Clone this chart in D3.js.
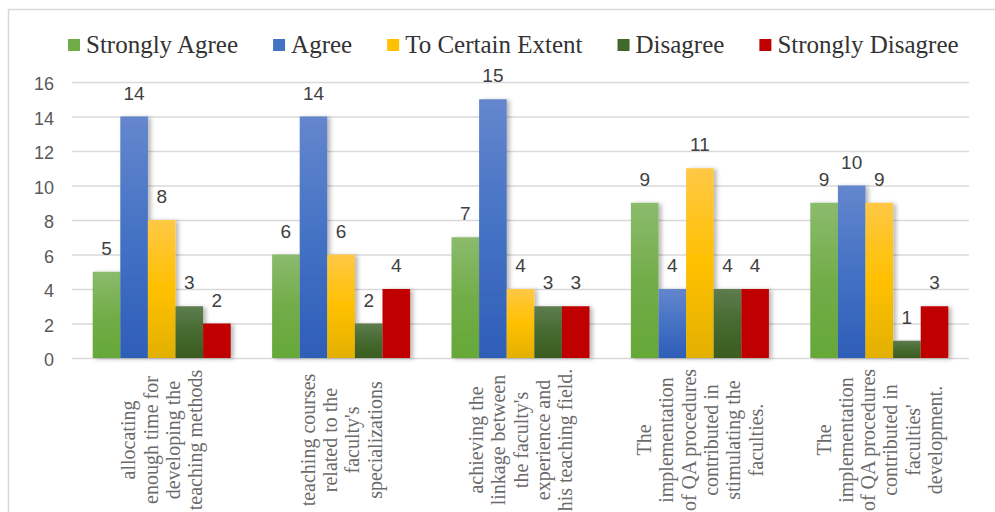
<!DOCTYPE html>
<html>
<head>
<meta charset="utf-8">
<script src="https://cdn.jsdelivr.net/npm/d3@7"></script>
<style>
  html, body { margin: 0; padding: 0; background: #fff; }
  svg { display: block; }
</style>
</head>
<body>
<svg id="chart" width="995" height="512"></svg>
<script>
const categories = [
  ["allocating", "enough time for", "developing the", "teaching methods"],
  ["teaching courses", "related to the", "faculty's", "specializations"],
  ["achieving the", "linkage between", "the faculty's", "experience and", "his teaching field."],
  ["The", "implementation", "of QA procedures", "contributed in", "stimulating the", "faculties."],
  ["The", "implementation", "of QA procedures", "contributed in", "faculties'", "development."]
];
const seriesNames = ["Strongly Agree", "Agree", "To Certain Extent", "Disagree", "Strongly Disagree"];
const stronglyAgree = [5, 6, 7, 9, 9];
const agree = [14, 14, 15, 4, 10];
const toCertainExtent = [8, 6, 4, 11, 9];
const disagree = [3, 2, 3, 4, 1];
const stronglyDisagree = [2, 4, 3, 4, 3];
const yTicks = [0, 2, 4, 6, 8, 10, 12, 14, 16];

const seriesValues = [stronglyAgree, agree, toCertainExtent, disagree, stronglyDisagree];
const baseColors = ["#70ad47", "#4472c4", "#ffc000", "#43682b", "#c00000"];
const gradStops = [
  ["#8bbb6d", "#72ad48", "#66a838"],
  ["#6486cd", "#4472c4", "#2e5eb8"],
  ["#ffc845", "#ffc000", "#e2b000"],
  ["#5e7c4e", "#466a30", "#3a5c1f"],
  ["#c00000", "#c00000", "#c00000"]
];

const svg = d3.select("#chart");
const defs = svg.append("defs");
gradStops.forEach((s, i) => {
  const g = defs.append("linearGradient").attr("id", "g" + i)
    .attr("x1", 0).attr("y1", 0).attr("x2", 0).attr("y2", 1);
  g.append("stop").attr("offset", "0%").attr("stop-color", s[0]);
  g.append("stop").attr("offset", "50%").attr("stop-color", s[1]);
  g.append("stop").attr("offset", "100%").attr("stop-color", s[2]);
});
const f = defs.append("filter").attr("id", "shadow")
  .attr("x", "-20%").attr("y", "-10%").attr("width", "160%").attr("height", "130%");
f.append("feDropShadow").attr("dx", 3).attr("dy", 1).attr("stdDeviation", 2)
  .attr("flood-color", "#000").attr("flood-opacity", 0.28);

// frame
svg.append("path")
  .attr("d", "M8.5,520 L8.5,9.5 L1000,9.5")
  .attr("fill", "none").attr("stroke", "#d9d9d9").attr("stroke-width", 1.5);

const plotLeft = 72, plotRight = 969, yTop = 82, yBottom = 358;
const y = d3.scaleLinear().domain([0, 16]).range([yBottom, yTop]);
const x0 = d3.scaleBand().domain(d3.range(categories.length)).range([plotLeft, plotRight]).padding(0);
const x1 = d3.scaleBand().domain(d3.range(seriesNames.length)).range([0, x0.bandwidth()])
  .paddingInner(0).paddingOuter(0.75);

// gridlines
svg.append("g").selectAll("line").data(yTicks).join("line")
  .attr("x1", plotLeft).attr("x2", plotRight)
  .attr("y1", d => y(d) + 0.5).attr("y2", d => y(d) + 0.5)
  .attr("stroke", "#d9d9d9").attr("stroke-width", 1.5);

// y axis labels
const yAxis = d3.axisLeft(y).tickValues(yTicks).tickSize(0).tickPadding(0);
const ya = svg.append("g").attr("transform", `translate(54,2)`).call(yAxis);
ya.select(".domain").remove();
ya.selectAll("text").attr("font-family", "Liberation Sans, Arial, sans-serif")
  .attr("font-size", 18).attr("fill", "#595959");

// bars
const groups = svg.append("g").selectAll("g").data(categories).join("g")
  .attr("transform", (d, i) => `translate(${x0(i)},0)`);
groups.each(function(cat, ci) {
  const g = d3.select(this);
  const data = seriesValues.map((vals, si) => ({ si, v: vals[ci] }));
  g.selectAll("rect").data(data).join("rect")
    .attr("x", d => x1(d.si))
    .attr("y", d => y(d.v))
    .attr("width", x1.bandwidth())
    .attr("height", d => y(0) - y(d.v))
    .attr("fill", d => `url(#g${d.si})`)
    .attr("filter", "url(#shadow)");
  g.selectAll("text.val").data(data).join("text")
    .attr("class", "val")
    .attr("x", d => x1(d.si) + x1.bandwidth() / 2)
    .attr("y", d => y(d.v) - 17)
    .attr("text-anchor", "middle")
    .attr("font-family", "Liberation Sans, Arial, sans-serif")
    .attr("font-size", 19).attr("fill", "#404040")
    .text(d => d.v);
});

// category labels (rotated)
const lineGap = 22.3;
categories.forEach((lines, ci) => {
  const cx = x0(ci) + x0.bandwidth() / 2;
  const n = lines.length;
  lines.forEach((t, li) => {
    const lx = cx + (li - (n - 1) / 2) * lineGap;
    const ly = 440;
    svg.append("text")
      .attr("transform", `translate(${lx},${ly}) rotate(-90)`)
      .attr("text-anchor", "middle")
      .attr("dominant-baseline", "central")
      .attr("font-family", "Liberation Serif, Times New Roman, serif")
      .attr("font-size", 20).attr("fill", "#6a6a6a")
      .text(t);
  });
});

// legend
const legend = svg.append("g");
let lx = 68;
seriesNames.forEach((name, i) => {
  legend.append("rect").attr("x", lx).attr("y", 39).attr("width", 12).attr("height", 12)
    .attr("fill", baseColors[i]);
  const t = legend.append("text").attr("x", lx + 18).attr("y", 53)
    .attr("font-family", "Liberation Serif, Times New Roman, serif")
    .attr("font-size", 25).attr("fill", "#333333").text(name);
  lx += 18 + t.node().getComputedTextLength() + 35;
});
</script>
</body>
</html>
